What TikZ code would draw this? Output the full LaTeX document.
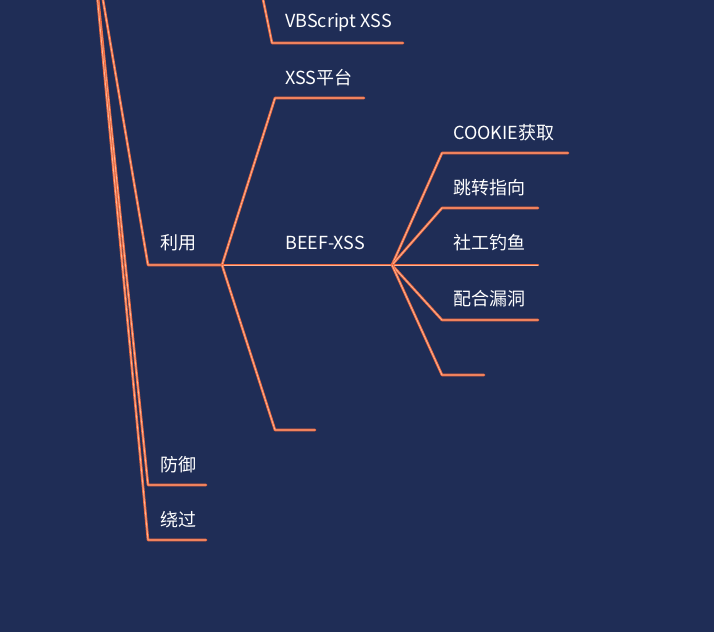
\documentclass[tikz,border=0pt]{standalone}
\usepackage{fontspec}
\setmainfont{Noto Sans CJK SC}

\definecolor{bgnavy}{RGB}{31,45,86}
\definecolor{branchorange}{RGB}{236,104,62}
\definecolor{branchlight}{RGB}{250,180,150}

\begin{document}
\begin{tikzpicture}[x=1pt, y=-1pt, line cap=round, line join=round,
    branch/.style={draw=branchorange, line width=2.6pt,
      postaction={draw=branchlight, line width=0.8pt}},
    leaf/.style={text=white, anchor=west, inner sep=0pt,
      font=\fontsize{18}{20}\selectfont}]
  % Background (fixes the page size)
  \fill[bgnavy] (0,0) rectangle (714,632);
  \clip (0,0) rectangle (714,632);

  % Parents above the visible part
  \coordinate (root) at (91,-71);
  \coordinate (vbsParent) at (255,-40);

  % Forks
  \coordinate (use)  at (148,265);
  \coordinate (useFork)  at (222,265);
  \coordinate (beefFork) at (392,265);

  % Corners and ends
  \coordinate (vbsC) at (272,43);   \coordinate (vbsE) at (403,43);
  \coordinate (platC) at (275,98);  \coordinate (platE) at (364,98);
  \coordinate (blankC) at (275,430); \coordinate (blankE) at (315,430);
  \coordinate (cookC) at (442,153); \coordinate (cookE) at (568,153);
  \coordinate (jumpC) at (442,208); \coordinate (jumpE) at (538,208);
  \coordinate (phishE) at (538,265);
  \coordinate (vulnC) at (442,320); \coordinate (vulnE) at (538,320);
  \coordinate (emptyC) at (442,375); \coordinate (emptyE) at (484,375);
  \coordinate (defC) at (148,485);  \coordinate (defE) at (206,485);
  \coordinate (byC) at (148,540);   \coordinate (byE) at (206,540);

  % Branches of the root
  \draw[branch] (root) -- (use) -- (useFork);
  \draw[branch] (root) -- (defC) -- (defE);
  \draw[branch] (root) -- (byC) -- (byE);

  % VBScript XSS (parent off the top)
  \draw[branch] (vbsParent) -- (vbsC) -- (vbsE);

  % Children of 利用
  \draw[branch] (useFork) -- (platC) -- (platE);
  \draw[branch] (useFork) -- (beefFork);
  \draw[branch] (useFork) -- (blankC) -- (blankE);

  % Children of BEEF-XSS
  \draw[branch] (beefFork) -- (cookC) -- (cookE);
  \draw[branch] (beefFork) -- (jumpC) -- (jumpE);
  \draw[branch] (beefFork) -- (phishE);
  \draw[branch] (beefFork) -- (vulnC) -- (vulnE);
  \draw[branch] (beefFork) -- (emptyC) -- (emptyE);

  % Labels
  \node[leaf] (vbs)   at (285,23)  {VBScript XSS};
  \node[leaf] (plat)  at (285,78)  {XSS平台};
  \node[leaf] (useT)  at (160,243) {利用};
  \node[leaf] (beef)  at (285,243) {BEEF-XSS};
  \node[leaf] (cook)  at (453,133) {COOKIE获取};
  \node[leaf] (jump)  at (453,188) {跳转指向};
  \node[leaf] (phish) at (453,243) {社工钓鱼};
  \node[leaf] (vuln)  at (453,299) {配合漏洞};
  \node[leaf] (def)   at (160,465) {防御};
  \node[leaf] (by)    at (160,520) {绕过};
\end{tikzpicture}
\end{document}
